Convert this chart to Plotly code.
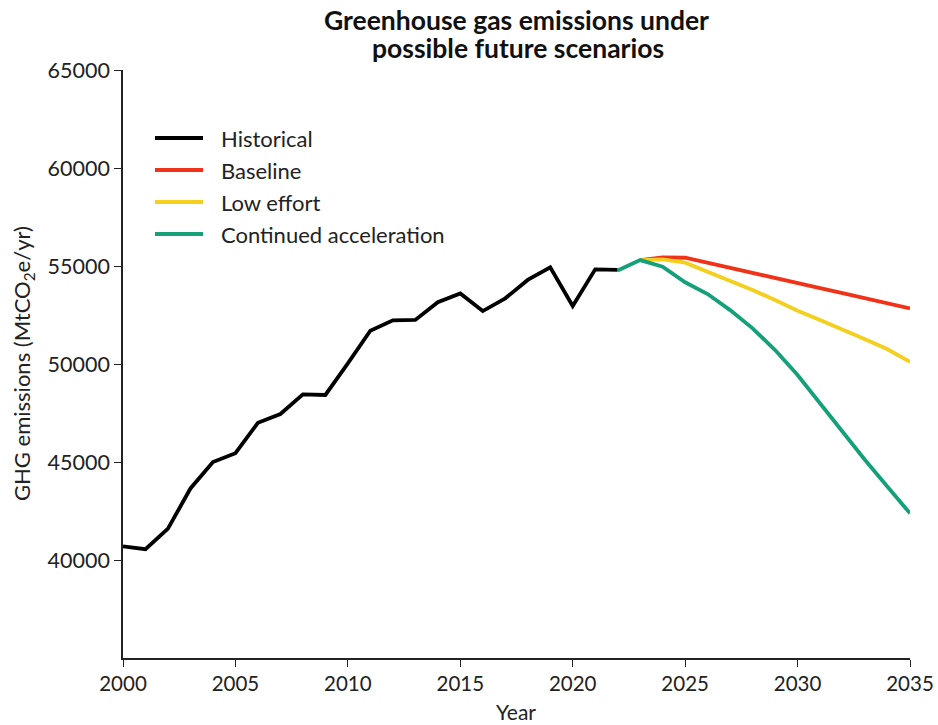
import plotly.graph_objects as go

hist_years = list(range(2000, 2023))
hist_values = [40700, 40550, 41600, 43650, 45000, 45450, 47000, 47450, 48450, 48420,
               50030, 51700, 52230, 52250, 53150, 53600, 52700, 53350, 54290, 54930,
               52960, 54830, 54800]

proj_years = list(range(2022, 2036))
baseline = [54800, 55300, 55440, 55420, 55170, 54910, 54650, 54390, 54135, 53875,
            53620, 53360, 53100, 52840]
low_effort = [54800, 55300, 55340, 55170, 54710, 54250, 53775, 53265, 52720, 52245,
              51770, 51260, 50750, 50110]
accel = [54770, 55300, 54960, 54170, 53570, 52750, 51820, 50710, 49440, 47990,
         46550, 45100, 43740, 42380]

series_names = ["Historical", "Baseline", "Low effort", "Continued acceleration"]
series_colors = ["#000000", "#f03219", "#f5cf1d", "#14a078"]

x_ticks = [2000, 2005, 2010, 2015, 2020, 2025, 2030, 2035]
y_ticks = [40000, 45000, 50000, 55000, 60000, 65000]

FONT = "Lato, 'Open Sans', sans-serif"
W, H = 938, 725
L, R, T, B = 123, 28, 70, 67
PW, PH = W - L - R, H - T - B

def px_x(px):
    return (px - L) / PW

def px_y(py):
    return (H - B - py) / PH

fig = go.Figure()
fig.add_trace(go.Scatter(x=hist_years, y=hist_values, mode="lines", name=series_names[0],
                         line=dict(color=series_colors[0], width=3.8)))
fig.add_trace(go.Scatter(x=proj_years[1:], y=baseline[1:], mode="lines", name=series_names[1],
                         line=dict(color=series_colors[1], width=3.8)))
fig.add_trace(go.Scatter(x=proj_years[1:], y=low_effort[1:], mode="lines", name=series_names[2],
                         line=dict(color=series_colors[2], width=3.8)))
fig.add_trace(go.Scatter(x=proj_years, y=accel, mode="lines", name=series_names[3],
                         line=dict(color=series_colors[3], width=3.8)))

# custom legend
shapes = []
annotations = []
legend_rows = [138, 170, 202, 234]
for name, color, row in zip(series_names, series_colors, legend_rows):
    shapes.append(dict(type="line", xref="paper", yref="paper",
                       x0=px_x(155), x1=px_x(203), y0=px_y(row), y1=px_y(row),
                       line=dict(color=color, width=4)))
    annotations.append(dict(text=name, xref="paper", yref="paper",
                            x=px_x(219), y=px_y(row), xanchor="left", yanchor="middle",
                            showarrow=False, font=dict(family=FONT, size=22, color="#222222")))

# title (two lines)
annotations.append(dict(text="<b>Greenhouse gas emissions under</b>", xref="paper", yref="paper",
                        x=px_x(516), y=px_y(20), xanchor="center", yanchor="middle",
                        showarrow=False, font=dict(family=FONT, size=26.5, color="#111111")))
annotations.append(dict(text="<b>possible future scenarios</b>", xref="paper", yref="paper",
                        x=px_x(518), y=px_y(48), xanchor="center", yanchor="middle",
                        showarrow=False, font=dict(family=FONT, size=26.5, color="#111111")))
# y axis title
annotations.append(dict(text="GHG emissions (MtCO<sub>2</sub>e/yr)", xref="paper", yref="paper",
                        x=px_x(23), y=px_y(364), xanchor="center", yanchor="middle",
                        textangle=-90, showarrow=False,
                        font=dict(family=FONT, size=22, color="#222222")))
# x axis title
annotations.append(dict(text="Year", xref="paper", yref="paper",
                        x=px_x(516), y=px_y(711), xanchor="center", yanchor="middle",
                        showarrow=False, font=dict(family=FONT, size=21, color="#222222")))

fig.update_layout(
    width=W, height=H,
    margin=dict(l=L, r=R, t=T, b=B),
    paper_bgcolor="white", plot_bgcolor="white",
    font=dict(family=FONT, size=20, color="#222222"),
    showlegend=False,
    shapes=shapes,
    annotations=annotations,
    xaxis=dict(range=[2000, 2035], tickvals=x_ticks, ticktext=[str(v) for v in x_ticks],
               showgrid=False, zeroline=False, automargin=False,
               showline=True, linecolor="#222222", linewidth=1.6,
               ticks="outside", ticklen=7, tickcolor="#222222", tickwidth=1.3,
               tickfont=dict(size=20.5)),
    yaxis=dict(range=[35000, 65000], tickvals=y_ticks, ticktext=[str(v) for v in y_ticks],
               showgrid=False, zeroline=False, automargin=False,
               showline=True, linecolor="#222222", linewidth=1.6,
               ticks="outside", ticklen=7, tickcolor="#222222", tickwidth=1.3,
               tickfont=dict(size=21.5)),
)

fig.write_html("out.html", config={"displayModeBar": False},
               post_script="document.body.style.margin='0';document.body.style.overflow='hidden';")
